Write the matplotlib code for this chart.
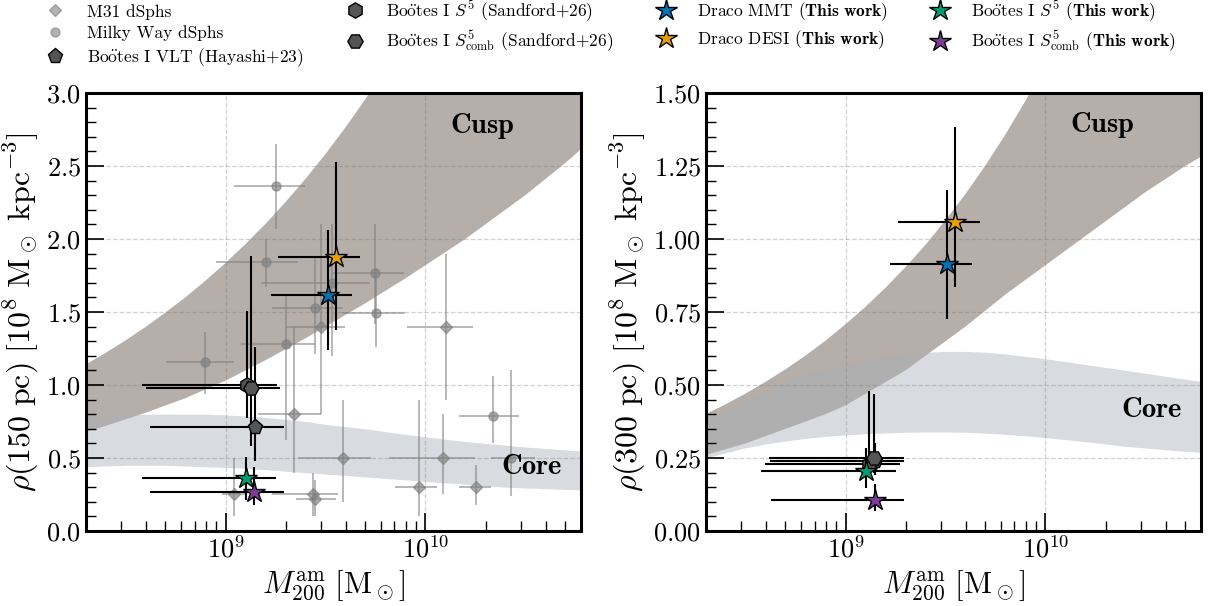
import numpy as np
import matplotlib
matplotlib.use("Agg")
import matplotlib.pyplot as plt
from matplotlib.lines import Line2D

plt.rcParams['font.family'] = ['cmr10', 'DejaVu Serif']
plt.rcParams['mathtext.fontset'] = 'cm'
plt.rcParams['axes.formatter.use_mathtext'] = True
plt.rcParams['axes.unicode_minus'] = False

# --- model bands, sampled in log10(M200) ---
band_logm = np.arange(8.3, 10.85, 0.1)
cusp150_lo = [0.68, 0.72, 0.765, 0.81, 0.86, 0.91, 0.97, 1.03, 1.10, 1.17, 1.245, 1.32, 1.40,
              1.48, 1.56, 1.645, 1.73, 1.82, 1.91, 2.00, 2.10, 2.20, 2.30, 2.41, 2.52, 2.64]
cusp150_hi = [1.14, 1.22, 1.306, 1.398, 1.497, 1.602, 1.715, 1.836, 1.966, 2.104, 2.253, 2.412,
              2.582, 2.764, 2.959, 3.17, 3.39, 3.63, 3.89, 4.16, 4.45, 4.77, 5.10, 5.46, 5.85, 6.26]
core150_lo = [0.44, 0.445, 0.45, 0.45, 0.45, 0.445, 0.44, 0.435, 0.43, 0.42, 0.41, 0.40, 0.39,
              0.38, 0.37, 0.36, 0.35, 0.34, 0.33, 0.32, 0.31, 0.30, 0.295, 0.29, 0.285, 0.28]
core150_hi = [0.77, 0.785, 0.795, 0.80, 0.80, 0.80, 0.80, 0.795, 0.787, 0.777, 0.765, 0.75, 0.73,
              0.715, 0.70, 0.68, 0.662, 0.645, 0.628, 0.612, 0.60, 0.588, 0.575, 0.565, 0.555, 0.545]
cusp300_lo = [0.26, 0.28, 0.30, 0.325, 0.35, 0.375, 0.40, 0.43, 0.47, 0.51, 0.55, 0.60, 0.65,
              0.70, 0.755, 0.81, 0.86, 0.91, 0.96, 1.01, 1.06, 1.11, 1.16, 1.205, 1.25, 1.29]
cusp300_hi = [0.40, 0.434, 0.471, 0.511, 0.554, 0.601, 0.652, 0.708, 0.768, 0.833, 0.904, 0.98,
              1.064, 1.154, 1.252, 1.358, 1.473, 1.598, 1.734, 1.88, 2.04, 2.21, 2.40, 2.61, 2.83, 3.07]
core300_lo = [0.25, 0.268, 0.285, 0.298, 0.308, 0.317, 0.324, 0.329, 0.333, 0.336, 0.338, 0.339,
              0.339, 0.338, 0.335, 0.331, 0.326, 0.32, 0.313, 0.306, 0.298, 0.29, 0.284, 0.278,
              0.273, 0.268]
core300_hi = [0.38, 0.415, 0.45, 0.48, 0.51, 0.535, 0.555, 0.57, 0.585, 0.597, 0.606, 0.612, 0.615,
              0.615, 0.612, 0.606, 0.598, 0.59, 0.58, 0.57, 0.56, 0.55, 0.54, 0.53, 0.52, 0.51]

# --- Milky Way dSphs (M200 in 1e9 Msun, rho(150pc) in 1e8 Msun/kpc^3) ---
mw_m = [1.795, 1.592, 5.598, 3.404, 2.805, 5.689, 1.995, 0.792, 21.88, 26.92]
mw_m_lo = [1.104, 0.899, 3.443, 1.503, 1.706, 3.802, 1.199, 0.501, 14.79, 21.38]
mw_m_hi = [2.489, 2.291, 7.798, 5.272, 3.873, 7.943, 2.805, 1.096, 29.51, 35.48]
mw_rho = [2.36, 1.84, 1.77, 1.70, 1.525, 1.49, 1.28, 1.16, 0.79, 0.50]
mw_rho_lo = [2.07, 1.67, 1.42, 1.20, 1.21, 1.26, 0.62, 0.94, 0.60, 0.24]
mw_rho_hi = [2.65, 2.00, 2.10, 2.10, 1.87, 1.80, 1.61, 1.36, 1.06, 1.10]

# --- M31 dSphs ---
m31_m = [2.985, 12.74, 2.193, 3.873, 12.27, 9.268, 17.99, 1.096, 2.723, 2.786]
m31_m_lo = [1.995, 8.054, 1.445, 2.291, 6.607, 7.079, 14.79, 0.955, 1.698, 2.239]
m31_m_hi = [3.981, 17.38, 2.985, 5.370, 17.78, 11.48, 21.38, 1.259, 3.631, 3.548]
m31_rho = [1.395, 1.395, 0.80, 0.50, 0.50, 0.30, 0.30, 0.25, 0.25, 0.22]
m31_rho_lo = [0.80, 0.90, 0.40, 0.20, 0.25, 0.10, 0.18, 0.10, 0.10, 0.10]
m31_rho_hi = [2.10, 1.895, 1.395, 0.90, 0.80, 0.90, 0.45, 0.50, 0.40, 0.35]

# --- Bootes I literature: [VLT, S5, S5comb] ---
boo_m = [1.40, 1.274, 1.346]
boo_m_lo = [0.417, 0.380, 0.398]
boo_m_hi = [1.95, 1.807, 1.862]
boo_rho150 = [0.71, 1.00, 0.98]
boo_rho150_lo = [0.48, 0.774, 0.585]
boo_rho150_hi = [1.26, 1.51, 1.88]
boo300_m = [1.40, 1.315, 1.387]
boo300_m_lo = [0.417, 0.394, 0.414]
boo300_m_hi = [1.95, 1.862, 1.959]
boo_rho300 = [0.24, 0.231, 0.25]
boo_rho300_lo = [0.19, 0.19, 0.20]
boo_rho300_hi = [0.30, 0.478, 0.469]

# --- this work: [Draco MMT, Draco DESI, Bootes I S5, Bootes I S5comb] ---
tw_m = [3.243, 3.556, 1.268, 1.387]
tw_m_lo = [1.679, 1.828, 0.380, 0.417]
tw_m_hi = [4.315, 4.721, 1.795, 1.95]
tw_rho150 = [1.619, 1.874, 0.363, 0.265]
tw_rho150_lo = [1.242, 1.377, 0.21, 0.175]
tw_rho150_hi = [2.06, 2.525, 0.505, 0.436]
tw300_m = [3.23, 3.54, 1.259, 1.40]
tw300_m_lo = [1.66, 1.824, 0.378, 0.422]
tw300_m_hi = [4.28, 4.70, 1.786, 1.95]
tw_rho300 = [0.915, 1.057, 0.206, 0.105]
tw_rho300_lo = [0.726, 0.834, 0.147, 0.07]
tw_rho300_hi = [1.168, 1.383, 0.284, 0.16]

BOO = r'Bo$\ddot{\rm o}$tes I'
tw_colors = ['#0072B2', '#E69F00', '#009E73', '#7D3C98']
tw_labels = [r'Draco MMT $\mathbf{(This\ work)}$', r'Draco DESI $\mathbf{(This\ work)}$',
             BOO + r' $S^5$ $\mathbf{(This\ work)}$',
             BOO + r' $S^5_{\rm comb}$ $\mathbf{(This\ work)}$']
boo_markers = ['p', 'h', 'H']
boo_labels = [BOO + ' VLT (Hayashi+23)', BOO + r' $S^5$ (Sandford+26)',
              BOO + r' $S^5_{\rm comb}$ (Sandford+26)']


def bounds(c, lo, hi, scale=1.0):
    c, lo, hi = np.array(c) * scale, np.array(lo) * scale, np.array(hi) * scale
    return c, [c - lo, hi - c]


def draw_bands(ax, clo, chi, klo, khi):
    m = 10 ** band_logm
    ax.fill_between(m, clo, chi, color='#8c7f76', alpha=0.63, lw=0, zorder=0.5)
    ax.fill_between(m, klo, khi, color='#a9b1b8', alpha=0.45, lw=0, zorder=0.6)


def style(ax, ymax, major, minor, ylabel):
    ax.set_xscale('log')
    ax.set_xlim(2e8, 6e10)
    ax.set_ylim(0, ymax)
    ax.set_yticks(np.arange(0, ymax + 1e-9, major))
    ax.set_yticks(np.arange(0, ymax + 1e-9, minor), minor=True)
    ax.grid(True, which='major', ls='--', color='gray', alpha=0.35, lw=0.9)
    ax.tick_params(which='both', direction='in', top=False, right=False, labelsize=19)
    ax.tick_params(which='major', length=13, width=1.2)
    ax.tick_params(which='minor', length=7, width=1.0)
    for s in ax.spines.values():
        s.set_linewidth(2.2)
    ax.set_xlabel(r'$M_{200}^{\rm am}\ [{\rm M}_\odot]$', fontsize=22)
    ax.set_ylabel(ylabel, fontsize=23)


fig = plt.figure(figsize=(12.14, 6.06), dpi=100)
ax1 = fig.add_axes([0.0708, 0.1238, 0.4077, 0.7228])
ax2 = fig.add_axes([0.5815, 0.1238, 0.4077, 0.7228])

# left panel
draw_bands(ax1, cusp150_lo, cusp150_hi, core150_lo, core150_hi)
x, xe = bounds(mw_m, mw_m_lo, mw_m_hi, 1e9)
y, ye = bounds(mw_rho, mw_rho_lo, mw_rho_hi)
ax1.errorbar(x, y, xerr=xe, yerr=ye, fmt='o', ms=6.5, color='gray', alpha=0.65,
             elinewidth=1.2, capsize=0, zorder=2)
x, xe = bounds(m31_m, m31_m_lo, m31_m_hi, 1e9)
y, ye = bounds(m31_rho, m31_rho_lo, m31_rho_hi)
ax1.errorbar(x, y, xerr=xe, yerr=ye, fmt='D', ms=6, color='gray', alpha=0.65,
             elinewidth=1.2, capsize=0, zorder=2)

for ax, bm, bml, bmh, br, brl, brh in [
        (ax1, boo_m, boo_m_lo, boo_m_hi, boo_rho150, boo_rho150_lo, boo_rho150_hi),
        (ax2, boo300_m, boo300_m_lo, boo300_m_hi, boo_rho300, boo_rho300_lo, boo_rho300_hi)]:
    x, xe = bounds(bm, bml, bmh, 1e9)
    y, ye = bounds(br, brl, brh)
    for i in range(3):
        ax.errorbar(x[i], y[i], xerr=[[xe[0][i]], [xe[1][i]]], yerr=[[ye[0][i]], [ye[1][i]]],
                    fmt=boo_markers[i], ms=11, mfc='#555555', mec='black', mew=1.0,
                    ecolor='black', elinewidth=1.5, capsize=0, zorder=3)

for ax, tm, tml, tmh, tr, trl, trh in [
        (ax1, tw_m, tw_m_lo, tw_m_hi, tw_rho150, tw_rho150_lo, tw_rho150_hi),
        (ax2, tw300_m, tw300_m_lo, tw300_m_hi, tw_rho300, tw_rho300_lo, tw_rho300_hi)]:
    x, xe = bounds(tm, tml, tmh, 1e9)
    y, ye = bounds(tr, trl, trh)
    for i in range(4):
        ax.errorbar(x[i], y[i], xerr=[[xe[0][i]], [xe[1][i]]], yerr=[[ye[0][i]], [ye[1][i]]],
                    fmt='*', ms=16, mfc=tw_colors[i], mec='black', mew=1.0,
                    ecolor='black', elinewidth=1.5, capsize=0, zorder=4)

style(ax1, 3.0, 0.5, 0.1, r'$\rho(150\ {\rm pc})\ [10^8\ {\rm M}_\odot\ {\rm kpc}^{-3}]$')
ax1.text(0.80, 0.925, r'$\mathbf{Cusp}$', transform=ax1.transAxes, fontsize=20.5,
         ha='center', va='center')
ax1.text(0.90, 0.147, r'$\mathbf{Core}$', transform=ax1.transAxes, fontsize=20.5,
         ha='center', va='center')

# right panel
draw_bands(ax2, cusp300_lo, cusp300_hi, core300_lo, core300_hi)
style(ax2, 1.5, 0.25, 0.05, r'$\rho(300\ {\rm pc})\ [10^8\ {\rm M}_\odot\ {\rm kpc}^{-3}]$')
ax2.text(0.80, 0.927, r'$\mathbf{Cusp}$', transform=ax2.transAxes, fontsize=20.5,
         ha='center', va='center')
ax2.text(0.90, 0.276, r'$\mathbf{Core}$', transform=ax2.transAxes, fontsize=20.5,
         ha='center', va='center')

# legend
handles = [
    Line2D([], [], ls='none', marker='D', ms=6, color='gray', alpha=0.6, label='M31 dSphs'),
    Line2D([], [], ls='none', marker='o', ms=6.5, color='gray', alpha=0.6, label='Milky Way dSphs'),
]
for mk, lab in zip(boo_markers, boo_labels):
    handles.append(Line2D([], [], ls='none', marker=mk, ms=11, mfc='#555555', mec='black',
                          mew=1.0, label=lab))
for c, lab in zip(tw_colors, tw_labels):
    handles.append(Line2D([], [], ls='none', marker='*', ms=16, mfc=c, mec='black',
                          mew=1.0, label=lab))
fig.legend(handles=handles, loc='upper center', bbox_to_anchor=(0.5, 1.028), ncol=4,
           frameon=False, fontsize=12.5, labelspacing=0.3, columnspacing=2.0)

fig.savefig('out.png', dpi=100)
